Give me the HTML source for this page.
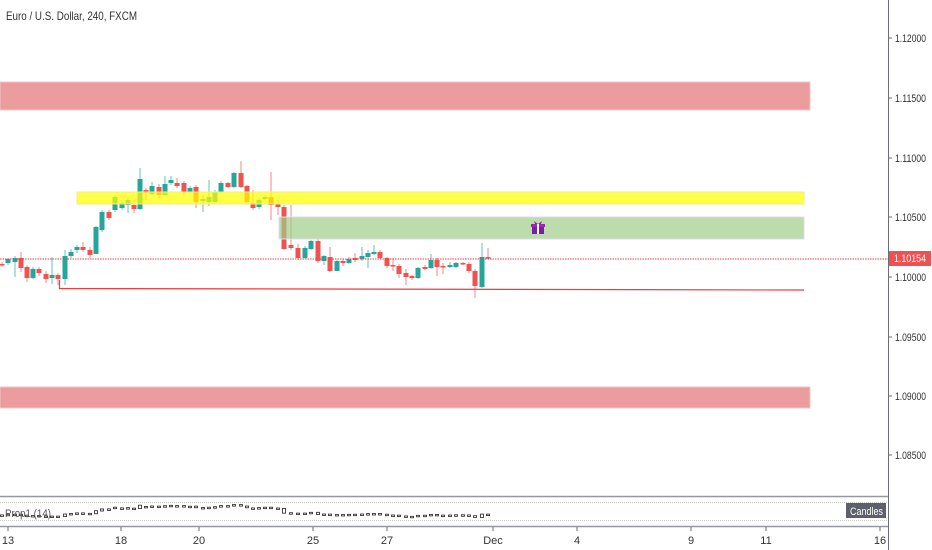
<!DOCTYPE html>
<html><head><meta charset="utf-8"><style>
html,body{margin:0;padding:0;background:#fff;}
body{width:932px;height:550px;overflow:hidden;font-family:"Liberation Sans",sans-serif;}
</style></head><body>
<svg id="s" width="932" height="550" xmlns="http://www.w3.org/2000/svg" style="position:absolute;left:0;top:0">
<rect width="932" height="550" fill="#fff"/>
<g id="c"></g>
<g id="ind"></g>
<rect x="0" y="82" width="810" height="28" fill="#eb9c9c" stroke="#f2c4c4"/>
<rect x="0" y="387" width="810" height="21" fill="#eb9c9c" stroke="#f2c4c4"/>
<rect x="77" y="192" width="727" height="12" fill="#ffff00" fill-opacity="0.72" stroke="#eeee88"/>
<rect x="279" y="217" width="525" height="22" fill="#9fcd88" fill-opacity="0.7" stroke="#dde"/>
<line x1="0" y1="259" x2="888" y2="259" stroke="#f04040" stroke-width="1" stroke-dasharray="1.5,1"/>
<polyline points="59.5,280 59.5,288.5 804,290" fill="none" stroke="#f23a3a" stroke-width="1.2"/>
<g transform="translate(532,222)"><rect x="0" y="4" width="12" height="8" fill="#7a1fa2"/><rect x="-1" y="2" width="14" height="3" fill="#9c27b0"/><rect x="5" y="2" width="2" height="10" fill="#fff"/><path d="M6 2 L2 -1 L3 2 Z M6 2 L10 -1 L9 2Z" fill="#9c27b0"/></g>
<text x="6" y="20" font-size="12" fill="#333" textLength="131" lengthAdjust="spacingAndGlyphs">Euro / U.S. Dollar, 240, FXCM</text>
<line x1="888.5" y1="0" x2="888.5" y2="550" stroke="#6a6d78"/>
<line x1="0" y1="496.5" x2="888" y2="496.5" stroke="#9598a1" stroke-width="1.5"/>
<line x1="0" y1="526.5" x2="888" y2="526.5" stroke="#9598a1" stroke-width="1.5"/>
<line x1="0" y1="502.5" x2="888" y2="502.5" stroke="#ccc" stroke-dasharray="1,1"/>
<line x1="0" y1="520.5" x2="888" y2="520.5" stroke="#ccc" stroke-dasharray="1,1"/>
<g font-size="11" fill="#333">
<g id="pt"></g>
<rect x="889" y="251" width="42" height="15" fill="#f05050"/>
<text x="894" y="262" fill="#fff" textLength="32" lengthAdjust="spacingAndGlyphs">1.10154</text>
<text x="5" y="517" fill="#555" textLength="46" lengthAdjust="spacingAndGlyphs">Prop1 (14)</text>
<rect x="846" y="503" width="40" height="15" fill="#5d606b"/>
<text x="850" y="515" fill="#fff" textLength="33" lengthAdjust="spacingAndGlyphs">Candles</text>
<g id="tt"></g>
</g>
</svg>
<script>
var C=[[2,264,265,262,267],[8,263,259,258,265],[15,262,258,256,277],[21,258,268,252,272],[27,267,278,265,282],[33,278,269,267,279],[39,269,273,267,276],[46,274,279,271,283],[52,278,275,257,284],[58,275,279,273,285],[65,279,256,250,285],[71,256,252,249,258],[77,250,247,245,253],[83,247,250,242,252],[90,250,255,247,258],[96,254,227,226,254],[102,230,212,210,232],[109,212,218,210,220],[115,210,197,195,212],[122,208,203,200,210],[128,205,200,198,213],[134,205,209,200,213],[140,209,179,168,210],[146,190,193,188,200],[152,194,186,182,195],[159,187,195,184,198],[165,195,184,176,196],[171,183,180,176,185],[177,183,186,178,188],[184,183,192,181,195],[190,192,188,186,193],[196,187,202,185,208],[203,201,199,195,212],[209,202,197,180,206],[215,202,192,190,203],[221,192,183,181,193],[228,183,187,182,188],[234,187,173,172,188],[241,173,187,161,188],[247,186,202,185,204],[253,203,208,190,210],[259,207,200,198,209],[265,199,197,195,200],[271,197,205,172,220],[278,204,207,200,215],[284,207,249,205,250],[291,245,248,205,250],[298,248,258,244,260],[305,258,248,246,259],[311,249,241,240,250],[318,241,261,238,263],[324,261,256,255,265],[330,257,271,247,272],[337,271,261,260,271],[343,261,263,259,266],[349,263,259,257,264],[355,258,260,253,262],[362,259,256,247,261],[368,257,253,250,268],[374,254,252,245,255],[380,252,258,250,259],[387,258,266,257,268],[393,265,266,258,271],[399,266,274,264,278],[406,273,277,269,285],[412,276,278,275,280],[418,278,268,267,279],[425,267,269,265,270],[431,268,260,254,269],[437,260,267,258,276],[443,266,267,263,274],[450,267,265,262,268],[456,267,263,262,268],[463,263,264,262,265],[469,264,271,262,273],[475,271,286,269,298],[482,287,257,243,288],[488,257,258,248,259]];
var g='',h='';
C.forEach(function(c){var x=c[0],o=c[1],cl=c[2],hi=c[3],lo=c[4];var up=cl<o;var col=up?'#26a69a':'#ef5350';
g+='<line x1="'+x+'" y1="'+hi+'" x2="'+x+'" y2="'+lo+'" stroke="'+col+'" stroke-opacity="0.7"/>';
var t=Math.min(o,cl),b=Math.max(o,cl);if(b-t<1.5)b=t+1.5;
g+='<rect x="'+(x-2.5)+'" y="'+t+'" width="5" height="'+(b-t)+'" fill="'+col+'"/>';
var f=function(v){return 503+(v-160)*16/140;};var it=f(t),ib=f(b);if(ib-it<1.5)ib=it+1.5;
h+='<rect x="'+(x-1.5)+'" y="'+it.toFixed(1)+'" width="3" height="'+(ib-it).toFixed(1)+'" fill="#fff" stroke="#222" stroke-width="0.8"/>';});
document.getElementById('c').innerHTML=g;document.getElementById('ind').innerHTML=h;
var P=[['1.12000',38],['1.11500',98],['1.11000',158],['1.10500',217],['1.10000',277],['1.09500',337],['1.09000',396],['1.08500',455]],p='';
P.forEach(function(a){p+='<line x1="888" y1="'+a[1]+'" x2="892" y2="'+a[1]+'" stroke="#6a6d78"/><text x="895" y="'+(a[1]+4)+'" textLength="31" lengthAdjust="spacingAndGlyphs">'+a[0]+'</text>';});
document.getElementById('pt').innerHTML=p;
var T=[['13',8],['18',121],['20',199],['25',313],['27',387],['Dec',493],['4',577],['9',691],['11',766],['16',880]],t='';
T.forEach(function(a){t+='<line x1="'+a[1]+'" y1="527" x2="'+a[1]+'" y2="531" stroke="#6a6d78"/><text x="'+a[1]+'" y="544" text-anchor="middle">'+a[0]+'</text>';});
document.getElementById('tt').innerHTML=t;
</script>
</body></html>
